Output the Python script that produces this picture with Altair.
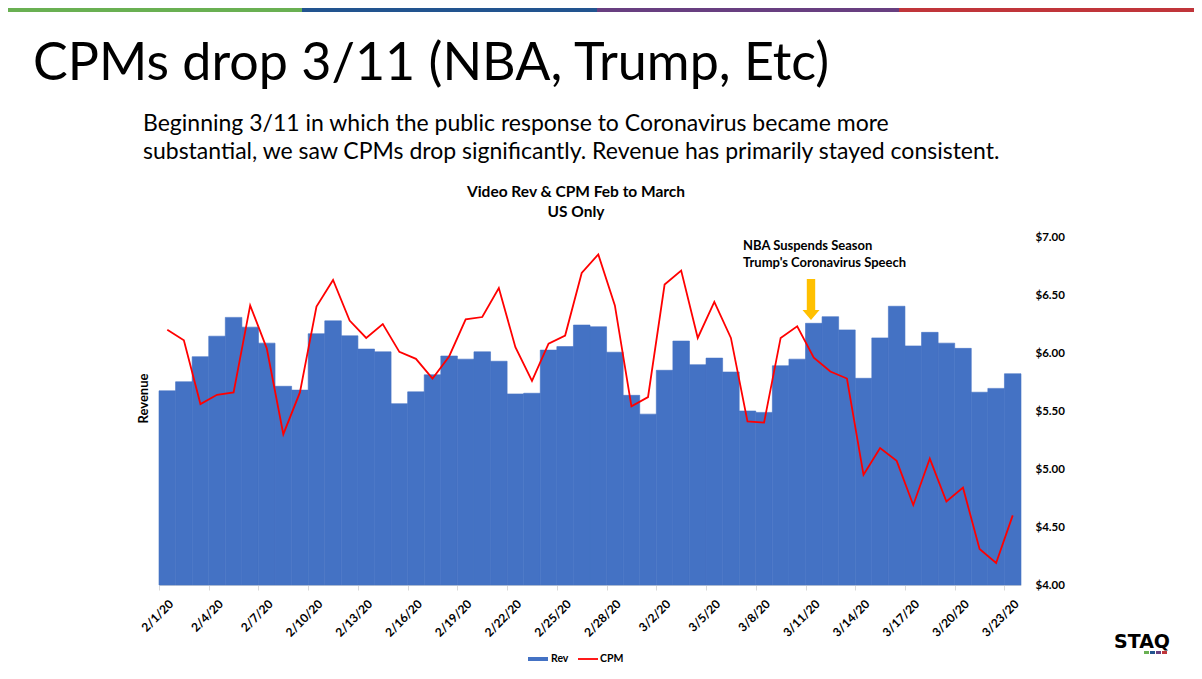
import altair as alt
import pandas as pd

# ---- data ----
dates = ["2/1/20", "2/2/20", "2/3/20", "2/4/20", "2/5/20", "2/6/20", "2/7/20", "2/8/20",
         "2/9/20", "2/10/20", "2/11/20", "2/12/20", "2/13/20", "2/14/20", "2/15/20", "2/16/20",
         "2/17/20", "2/18/20", "2/19/20", "2/20/20", "2/21/20", "2/22/20", "2/23/20", "2/24/20",
         "2/25/20", "2/26/20", "2/27/20", "2/28/20", "2/29/20", "3/1/20", "3/2/20", "3/3/20",
         "3/4/20", "3/5/20", "3/6/20", "3/7/20", "3/8/20", "3/9/20", "3/10/20", "3/11/20",
         "3/12/20", "3/13/20", "3/14/20", "3/15/20", "3/16/20", "3/17/20", "3/18/20", "3/19/20",
         "3/20/20", "3/21/20", "3/22/20", "3/23/20"]

# Revenue (relative units, axis unlabeled in the original)
rev = [55.8, 58.4, 65.6, 71.5, 76.9, 74.1, 69.5, 57.1, 56.0, 72.2, 75.9, 71.6, 67.8,
       67.0, 52.1, 55.5, 60.4, 65.8, 64.9, 67.0, 64.3, 54.9, 55.1, 67.5, 68.5, 74.7,
       74.2, 66.9, 54.5, 49.1, 61.7, 70.1, 63.3, 65.2, 61.2, 50.0, 49.6, 63.0, 64.9,
       75.2, 77.1, 73.3, 59.4, 71.0, 80.1, 68.7, 72.6, 69.5, 68.0, 55.4, 56.5, 60.7]

cpm = [6.20, 6.11, 5.56, 5.64, 5.66, 6.41, 6.04, 5.30, 5.66, 6.40, 6.63, 6.28, 6.13,
       6.25, 6.01, 5.95, 5.78, 5.97, 6.29, 6.31, 6.56, 6.05, 5.76, 6.08, 6.15, 6.69,
       6.85, 6.41, 5.54, 5.62, 6.59, 6.71, 6.13, 6.44, 6.13, 5.41, 5.40, 6.13, 6.23,
       5.96, 5.84, 5.78, 4.95, 5.18, 5.07, 4.69, 5.09, 4.72, 4.84, 4.31, 4.19, 4.60]

cpm_ticks = [4.0, 4.5, 5.0, 5.5, 6.0, 6.5, 7.0]
shown_dates = dates[::3]

slide_title = "CPMs drop 3/11 (NBA, Trump, Etc)"
subtitle_lines = ["Beginning 3/11 in which the public response to Coronavirus became more",
                  "substantial, we saw CPMs drop significantly. Revenue has primarily stayed consistent."]
chart_title = ["Video Rev & CPM Feb to March", "US Only"]
note_lines = ["NBA Suspends Season", "Trump's Coronavirus Speech"]

FONT = "Lato"
W, H = 862, 348
BAND = W / len(dates)
BAR_BLUE = "#4472C4"

df = pd.DataFrame({"date": dates, "Rev": rev, "CPM": cpm})
base = alt.Chart(df)

x_enc = alt.X("date:O", sort=dates,
              scale=alt.Scale(paddingInner=0, paddingOuter=0),
              axis=alt.Axis(values=shown_dates, labelAngle=-45, labelFont=FONT,
                            labelFontWeight="bold", labelFontSize=12, labelColor="black",
                            labelOverlap=False, labelPadding=8,
                            domainColor="#d9d9d9", tickColor="#d9d9d9", tickSize=5,
                            tickOffset=-BAND / 2, labelOffset=BAND / 2, title=None))

bars = base.mark_bar(color=BAR_BLUE, stroke=BAR_BLUE, strokeWidth=0.6).encode(
    x=x_enc,
    y=alt.Y("Rev:Q", scale=alt.Scale(domain=[0, 100], nice=False),
            axis=alt.Axis(labels=False, ticks=False, domain=False, grid=False,
                          title="Revenue", titleFont=FONT, titleFontWeight="bold",
                          titleFontSize=13, titleColor="black", titleAngle=-90,
                          titleX=-16, titleY=H / 2 - 13, titleAlign="center",
                          titleBaseline="middle")),
)

line = base.mark_line(color="#FF0000", strokeWidth=1.8).encode(
    x=alt.X("date:O", sort=dates),
    y=alt.Y("CPM:Q", scale=alt.Scale(domain=[4, 7], nice=False),
            axis=alt.Axis(orient="right", values=cpm_ticks, format="$.2f",
                          labelFont=FONT, labelFontWeight="bold", labelFontSize=11.5,
                          labelColor="black", ticks=False, domain=False, grid=False,
                          labelPadding=14, title=None)),
)

data_layer = alt.layer(bars, line).resolve_scale(y="independent")

# ---- decorations (pixel positions relative to plot origin) ----
one = pd.DataFrame({"k": [0]})

band_colors = ["#69B052", "#22548F", "#683F80", "#C0353A"]
band_df = pd.DataFrame({"x": [-159, 143, 438, 740], "x2": [143, 438, 740, 1040],
                        "c": band_colors})
top_band = alt.Chart(band_df).mark_rect().encode(
    x=alt.X("x:Q", scale=None), x2="x2:Q",
    y=alt.value(-229), y2=alt.value(-225),
    color=alt.Color("c:N", scale=None))

title_t = alt.Chart(one).mark_text(text=slide_title, font=FONT, fontSize=52, align="left",
                                   baseline="alphabetic", color="black").encode(
    x=alt.value(-126), y=alt.value(-157))

sub_t = alt.Chart(one).mark_text(text=subtitle_lines, lineHeight=27.6, font=FONT,
                                 fontSize=23, align="left", baseline="alphabetic",
                                 color="black").encode(
    x=alt.value(-16), y=alt.value(-106))

ct_t = alt.Chart(one).mark_text(text=chart_title, lineHeight=20, font=FONT, fontSize=15.5,
                                fontWeight="bold", align="center", baseline="alphabetic",
                                color="black").encode(
    x=alt.value(417), y=alt.value(-40))

note_t = alt.Chart(one).mark_text(text=note_lines, lineHeight=17, font=FONT, fontSize=13,
                                  fontWeight="bold", align="left", baseline="alphabetic",
                                  color="black").encode(
    x=alt.value(584), y=alt.value(13))

arrow = alt.Chart(one).mark_point(
    shape="M-0.205,-1L0.205,-1L0.205,0.51L0.415,0.51L0,1L-0.415,0.51L-0.205,0.51Z",
    filled=True, color="#FFC000", opacity=1, strokeWidth=0).encode(
    x=alt.value(652), y=alt.value(62.5), size=alt.value(1681))

leg_rect = alt.Chart(one).mark_rect(color=BAR_BLUE).encode(
    x=alt.value(369), x2=alt.value(389), y=alt.value(420), y2=alt.value(424))
leg_line = alt.Chart(one).mark_rule(color="#FF0000", strokeWidth=1.8).encode(
    x=alt.value(419), x2=alt.value(439), y=alt.value(422))
leg_df = pd.DataFrame({"t": ["Rev", "CPM"], "x": [392, 441]})
leg_t = alt.Chart(leg_df).mark_text(font=FONT, fontSize=10.5, fontWeight="bold", align="left",
                                    baseline="middle", color="black").encode(
    x=alt.X("x:Q", scale=None), y=alt.value(422), text="t:N")

logo_t = alt.Chart(one).mark_text(text="STAQ", font="DejaVu Sans", fontSize=19,
                                  fontWeight="bold", align="center", baseline="alphabetic",
                                  color="black").encode(
    x=alt.value(983), y=alt.value(411))
logo_df = pd.DataFrame({"x": [985, 991, 997, 1003], "x2": [990, 996, 1002, 1008],
                        "c": band_colors})
logo_bars = alt.Chart(logo_df).mark_rect().encode(
    x=alt.X("x:Q", scale=None), x2="x2:Q", y=alt.value(414), y2=alt.value(417),
    color=alt.Color("c:N", scale=None))

chart = alt.layer(
    data_layer, top_band, title_t, sub_t, ct_t, note_t, arrow,
    leg_rect, leg_line, leg_t, logo_t, logo_bars
).properties(
    width=W, height=H,
    autosize=alt.AutoSizeParams(type="none"),
    padding={"left": 151, "top": 229, "right": 173, "bottom": 86},
    background="white",
).configure_view(stroke=None)

chart.save("out.html", embed_options={"renderer": "svg", "actions": False})
